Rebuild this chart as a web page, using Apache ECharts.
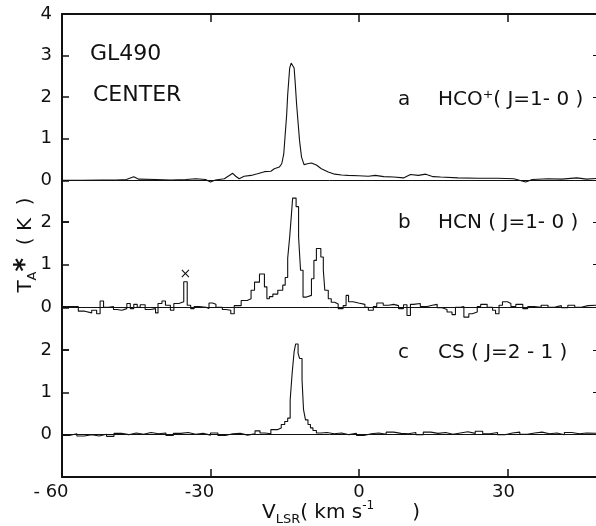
<!DOCTYPE html>
<html>
<head>
<meta charset="utf-8">
<script src="https://cdn.jsdelivr.net/npm/echarts@6/dist/echarts.min.js"></script>
<style>
  html, body { margin: 0; background: #fff; }
  #chart { width: 596px; height: 526px; }
</style>
</head>
<body>
<div id="chart"></div>
<script>
// velocity (km/s) and antenna temperature (K)

// a: HCO+ (J=1-0), drawn as a plain trace
const hcoVel = [-60, -56, -52, -49, -47, -45.5, -44.5, -41, -38, -35, -33, -31, -30, -29, -27.2,
  -25.5, -24.9, -24.2, -23.2, -21.8, -20.5, -19.1, -17.8, -17.1, -16.1, -15.6, -15.2, -14.9, -14.6,
  -14.4, -14.0, -13.7, -13.4, -13.1, -12.9, -12.6, -12.3, -12.0, -11.6, -11.1, -10.4, -9.6, -8.6,
  -7.6, -6.2, -4.9, -3.5, -2.2, -0.1, 1.9, 3.3, 5, 7, 9, 10.4, 12, 13.5, 15, 16.5, 20, 24, 28,
  31.3, 33.7, 35, 38.2, 41, 44, 46, 48.5];
const hcoT = [0, 0, 0.01, 0.01, 0.02, 0.09, 0.03, 0.02, 0.01, 0.02, 0.04, 0.02, -0.04, 0.01, 0.04,
  0.17, 0.1, 0.04, 0.1, 0.12, 0.16, 0.21, 0.22, 0.28, 0.32, 0.4, 0.63, 1.11, 1.59,
  2.06, 2.7, 2.82, 2.84, 2.7, 2.38, 1.83, 1.39, 0.95, 0.56, 0.38, 0.4, 0.42, 0.37,
  0.28, 0.2, 0.15, 0.13, 0.12, 0.11, 0.1, 0.12, 0.09, 0.08, 0.06, 0.14, 0.12, 0.15, 0.09, 0.08, 0.06, 0.05, 0.05,
  0.04, -0.04, 0.02, 0.04, 0.03, 0.06, 0.03, 0.05];

// b: HCN (J=1-0), channel steps (value holds until the next velocity)
const hcnVel = [-60, -56.7, -55.4, -54.0, -53.0, -52.3, -51.6, -50.6, -49.6, -48.9, -47.9, -46.9,
  -46.2, -45.5, -44.8, -44.2, -43.2, -42.1, -41.1, -40.6, -39.8, -39.1, -38.1, -37.4, -36.4, -35.4,
  -34.7, -34.0, -33.3, -32.3, -30.9, -30.3, -29.6, -28.9, -27.6, -26.9, -25.9, -25.2, -23.8, -22.6,
  -21.8, -21.1, -20.1, -19.1, -18.6, -18.1, -17.4, -16.4, -15.4, -14.9, -14.4, -14.0, -13.7, -13.4,
  -12.7, -12.2, -11.8, -11.3, -10.6, -9.6, -9.1, -8.6, -7.7, -7.2, -6.9, -6.2, -5.6, -4.9, -4.2,
  -3.2, -2.6, -2.1, -1.2, -0.1, 1.2, 1.9, 2.9, 3.6, 4.9, 6.0, 7.0, 8.0, 9.0, 9.7, 10.4, 11.0, 12.4,
  13.8, 14.8, 15.8, 16.8, 17.8, 18.8, 19.5, 20.5, 21.2, 22.2, 22.9, 23.9, 24.6, 25.9, 27.0, 27.6,
  28.3, 29.0, 30.0, 30.7, 31.7, 33.1, 34.1, 35.4, 36.8, 38.2, 39.5, 40.9, 42.2, 43.6, 44.9, 46.3, 48.5];
const hcnT = [0.02, -0.09, -0.13, -0.07, -0.15, 0.15, 0, 0.02, -0.05, -0.07, -0.03, 0.09,
  -0.03, 0.07, 0, 0.06, -0.05, -0.03, -0.13, 0.09, 0.15, 0.05, -0.07, 0.09, 0.13, 0.6,
  0.05, -0.03, 0.02, 0, -0.03, 0.1, 0.07, 0, -0.05, -0.07, -0.15, 0.04, 0.16, 0.2,
  0.4, 0.59, 0.78, 0.48, 0.2, 0.25, 0.31, 0.4, 0.52, 0.7, 1.15, 1.65, 2.09, 2.56,
  2.36, 1.65, 0.87, 0.24, 0.28, 0.67, 1.1, 1.38, 1.18, 0.87, 0.4, 0.2, 0.12, 0.08, -0.03,
  0.04, 0.28, 0.13, 0.1, 0.07, 0, -0.07, 0.02, 0.1, 0.05, 0.07, 0.04, -0.03, 0.06, -0.19, 0.07, 0.09, 0.02,
  0.05, 0.07, -0.01, -0.05, -0.11, -0.17, 0, 0.02, -0.23, -0.15, -0.11, 0.02, 0.07, 0, -0.07, -0.15,
  0.05, 0.13, 0.09, 0.02, 0.07, -0.03, 0.02, 0, 0.05, 0, 0.04, -0.01, 0.05, 0, 0.04, 0.05, 0.05];

// c: CS (J=2-1), channel steps
const csVel = [-60, -58.5, -57, -55.5, -54, -52.5, -51, -49.5, -48, -46.5, -45, -43.5, -42, -40.5,
  -39, -37.5, -36, -34.5, -33, -31.5, -30, -28.5, -27, -25.5, -24, -22.5, -21, -20, -19, -17.8,
  -16.4, -15.7, -15.0, -14.4, -13.9, -13.5, -13.1, -12.8, -12.3, -12.0, -11.5, -11.2, -10.8, -10.3,
  -9.8, -9.3, -8.6, -7.6, -6.5, -5, -3.5, -2, -0.5, 1, 2.5, 4, 5.5, 7, 8.5, 10, 11.5, 13, 14.5, 16,
  17.5, 19, 20.5, 22, 23.5, 25, 26.5, 28, 29.5, 31, 32.5, 34, 35.5, 37, 38.5, 40, 41.5, 43, 44.5, 46, 48.5];
const csT = [-0.02, 0.02, -0.03, 0, -0.03, 0.01, -0.04, 0.03, 0, 0.04, 0.01, 0.05, 0.02, 0.04,
  -0.02, 0.03, 0.05, 0.01, 0.03, -0.01, 0.04, -0.02, 0.02, 0.03, -0.01, 0.02, 0.09, 0.04, 0.02, 0.12,
  0.16, 0.24, 0.31, 0.39, 0.82, 1.45, 1.96, 2.14, 1.92, 1.8, 1.29, 0.59, 0.35, 0.24,
  0.16, 0.1, 0.04, 0.05, 0.02, 0.04, 0, 0.03, -0.02, 0.02, 0.04, 0.01, 0.06, 0.03, 0.02, 0.05, 0, 0.06, 0.03, 0.05,
  0.01, 0.04, 0.07, 0.03, 0.08, 0.02, 0.05, 0, 0.04, 0.06, 0.01, 0.04, 0.06, 0.02, 0.04, 0, 0.05, 0.02, 0.04, 0.03, 0.03];

const xTicks = [-60, -30, 0, 30];
const xTickText = ['- 60', '-30', '0', '30'];
const panelLetters = ['a', 'b', 'c'];
const panelLines = ['HCO⁺( J=1- 0 )', 'HCN ( J=1- 0 )', 'CS ( J=2 - 1 )'];
const sourceName = 'GL490';
const positionName = 'CENTER';

const INK = '#111';
const FONT = 'DejaVu Sans';

const pairs = (vs, ts) => vs.map((v, i) => [v, ts[i]]);

// spike flagged with an x in panel b
let spikeIdx = 0;
hcnVel.forEach((v, i) => { if (v < -30 && hcnT[i] > hcnT[spikeIdx]) spikeIdx = i; });
const spikeCoord = [(hcnVel[spikeIdx] + hcnVel[spikeIdx + 1]) / 2, hcnT[spikeIdx]];

const chart = echarts.init(document.getElementById('chart'), null, { renderer: 'canvas' });

const grids = [
  { left: 62, right: -3, top: 14, height: 208, outerBoundsMode: 'none' },
  { left: 62, right: -3, top: 222, height: 128, outerBoundsMode: 'none' },
  { left: 62, right: -3, top: 350, height: 127, outerBoundsMode: 'none' }
];
const yMax = [4, 2, 2];

const xAxis = [0, 1, 2].map(i => ({
  type: 'value', gridIndex: i, min: -60, max: 48.5, interval: 30,
  show: i !== 1,
  position: i === 0 ? 'top' : 'bottom',
  axisLine: { show: true, onZero: false, lineStyle: { color: INK, width: 2 } },
  axisTick: { show: true, inside: true, length: 8, lineStyle: { color: INK, width: 1.5 } },
  axisLabel: {
    show: i === 2, margin: 6, fontSize: 18, fontFamily: FONT, color: INK,
    // the printed minus hangs left of the tick
    formatter: v => {
      const k = xTicks.indexOf(v);
      if (k < 0) return '';
      return v < 0 ? '{neg|' + xTickText[k] + '}' : (v > 0 ? '{pos|' + xTickText[k] + '}' : xTickText[k]);
    },
    rich: {
      neg: { fontSize: 18, fontFamily: FONT, color: INK, padding: [0, 22, 0, 0] },
      pos: { fontSize: 18, fontFamily: FONT, color: INK, padding: [0, 8, 0, 0] }
    }
  },
  splitLine: { show: false }
}));

const yAxis = [];
[0, 1, 2].forEach(i => {
  yAxis.push({
    type: 'value', gridIndex: i, min: -1, max: yMax[i], interval: 1, position: 'left',
    axisLine: { show: true, onZero: false, lineStyle: { color: INK, width: 2 } },
    axisTick: { show: true, inside: true, length: 7, lineStyle: { color: INK, width: 1.5 } },
    axisLabel: { margin: 10, fontSize: 18, fontFamily: FONT, color: INK,
      formatter: v => (v < 0 ? '' : String(v)) },
    splitLine: { show: false }
  });
  yAxis.push({
    type: 'value', gridIndex: i, min: -1, max: yMax[i], interval: 1, position: 'right',
    axisLine: { show: false, onZero: false },
    axisTick: { show: true, inside: true, length: 6, lineStyle: { color: INK, width: 1 } },
    axisLabel: { show: false },
    splitLine: { show: false }
  });
});

const zeroLine = {
  silent: true, symbol: ['none', 'none'], label: { show: false },
  lineStyle: { type: 'solid', color: INK, width: 1 },
  data: [{ yAxis: 0 }]
};

const spectra = [pairs(hcoVel, hcoT), pairs(hcnVel, hcnT), pairs(csVel, csT)];
const series = spectra.map((d, i) => ({
  type: 'line', xAxisIndex: i, yAxisIndex: i * 2, data: d,
  step: i === 0 ? false : 'end', clip: false,
  symbol: 'none', lineStyle: { color: INK, width: 1.1 },
  markLine: zeroLine,
  markPoint: i === 1 ? {
    symbol: 'circle', symbolSize: 1, itemStyle: { color: 'rgba(0,0,0,0)' },
    label: { show: true, position: 'top', distance: 0, formatter: '×', fontSize: 14, fontFamily: FONT, color: INK },
    data: [{ coord: spikeCoord }]
  } : undefined
}));

const txt = (x, y, text, size) => ({
  type: 'text', x, y,
  style: { text, fontSize: size, fontFamily: FONT, fill: INK, align: 'left', verticalAlign: 'middle' }
});

const labelY = [100, 223, 353];
const graphic = [
  txt(90, 54, sourceName, 22),
  txt(93, 95, positionName, 22)
];
panelLetters.forEach((l, i) => {
  graphic.push(txt(398, labelY[i], l, 20));
  graphic.push(txt(438, labelY[i], panelLines[i], 20));
});

// axis titles
graphic.push({
  type: 'text', x: 262, y: 513,
  style: {
    text: '{m|V}{s|LSR}{m|( km s}{p|-1}{m|      )}',
    fill: INK, align: 'left', verticalAlign: 'middle',
    rich: {
      m: { fontSize: 20, fontFamily: FONT, lineHeight: 26, fill: INK },
      s: { fontSize: 13, fontFamily: FONT, lineHeight: 13, verticalAlign: 'bottom', fill: INK },
      p: { fontSize: 12, fontFamily: FONT, lineHeight: 12, verticalAlign: 'top', fill: INK }
    }
  }
});
graphic.push({
  type: 'text', x: 26, y: 245, rotation: Math.PI / 2,
  style: {
    text: '{m|T}{s|A}{p|*}{m|  ( K  )}',
    fill: INK, align: 'center', verticalAlign: 'middle',
    rich: {
      m: { fontSize: 20, fontFamily: FONT, lineHeight: 26, fill: INK },
      s: { fontSize: 13, fontFamily: FONT, lineHeight: 13, verticalAlign: 'bottom', fill: INK },
      p: { fontSize: 26, fontFamily: FONT, lineHeight: 26, verticalAlign: 'top', fontWeight: 'bold', fill: INK }
    }
  }
});

chart.setOption({
  animation: false,
  backgroundColor: '#fff',
  grid: grids,
  xAxis: xAxis,
  yAxis: yAxis,
  series: series,
  graphic: graphic
});
</script>
</body>
</html>
